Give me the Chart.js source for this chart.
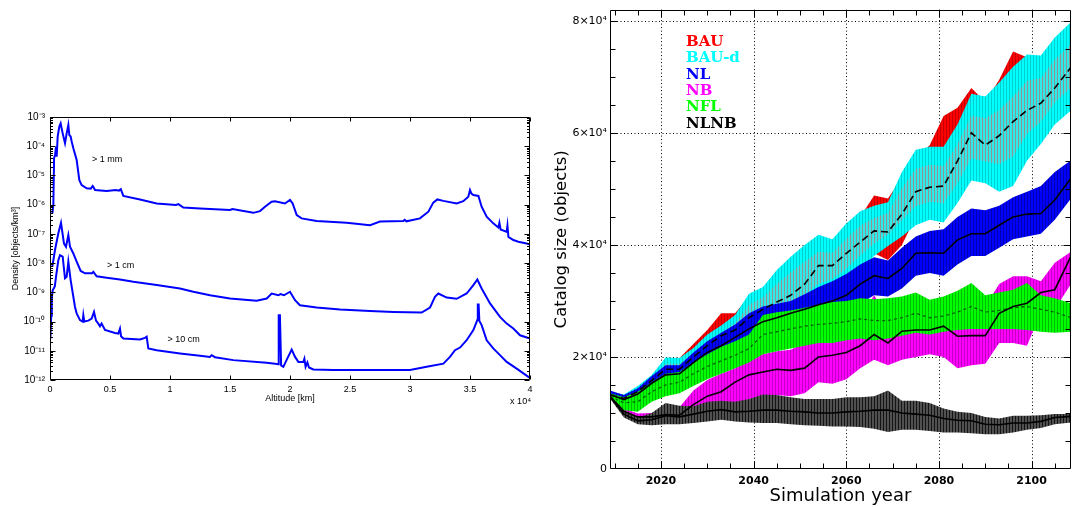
<!DOCTYPE html>
<html><head><meta charset="utf-8">
<script src="https://cdn.jsdelivr.net/npm/chart.js@4.4.1/dist/chart.umd.min.js"></script>
<style>
html,body{margin:0;padding:0;background:#fff;}
body{width:1074px;height:507px;position:relative;overflow:hidden;}
#left{position:absolute;left:0;top:100px;width:545px;height:310px;}
#right{position:absolute;left:545px;top:0;width:529px;height:507px;}
</style></head><body>
<canvas id="left" width="545" height="310"></canvas>
<canvas id="right" width="529" height="507"></canvas>
<script>
// ---------------- LEFT CHART DATA (altitude km, log10 density) ----------------
const alt1mm = [200,278,340,420,500,556,639,778,889,1056,1250,1389,1528,1611,1722,1806,1945,2222,2444,2639,3056,3400,3556,3650,3750,4722,5500,5750,5900,6111,7500,8889,10500,10700,11111,12500,15000,15200,16945,17500,17917,18470,18750,19580,20000,20220,20560,20970,22220,24720,26670,27500,29440,29560,29700,30830,31530,31940,32280,32780,33890,34440,34860,35000,35120,35280,35700,35970,36390,36940,37360,37450,37550,38060,38120,38200,38610,39030,39720,40000];
const log1mm = [-6.3,-6.0,-4.4,-4.3,-4.02,-4.36,-3.67,-3.33,-3.22,-3.56,-3.9,-3.56,-3.27,-3.62,-3.67,-3.84,-4.07,-4.47,-5.16,-5.33,-5.44,-5.45,-5.36,-5.42,-5.5,-5.53,-5.5,-5.52,-5.47,-5.7,-5.82,-5.96,-6.01,-5.98,-6.1,-6.13,-6.18,-6.15,-6.28,-6.22,-6.07,-5.9,-5.88,-5.96,-5.84,-5.96,-6.36,-6.47,-6.56,-6.62,-6.7,-6.58,-6.56,-6.52,-6.57,-6.47,-6.24,-5.93,-5.82,-5.87,-5.96,-5.88,-5.73,-5.5,-5.62,-5.67,-5.7,-6.07,-6.41,-6.64,-6.78,-6.62,-6.85,-6.93,-6.72,-7.1,-7.21,-7.27,-7.33,-7.36];
const alt1cm = [194,300,417,694,917,1167,1333,1528,1667,1945,2222,2556,2917,3500,3611,3889,4722,5833,6944,8889,10833,11945,13333,15000,17220,18060,18470,19030,19200,19500,20000,20420,20830,22220,24170,26670,28610,30970,31670,32080,32360,33060,33890,34720,35280,35610,35970,36670,37500,38060,38610,39170,39860,40000];
const log1cm = [-8.12,-7.85,-7.55,-6.98,-6.62,-7.33,-7.44,-7.04,-7.44,-7.67,-7.95,-8.27,-8.35,-8.35,-8.3,-8.45,-8.5,-8.56,-8.64,-8.75,-8.87,-8.98,-9.1,-9.21,-9.29,-9.21,-9.04,-9.1,-9.06,-9.1,-8.98,-9.27,-9.44,-9.52,-9.59,-9.64,-9.67,-9.69,-9.52,-9.15,-9.04,-9.18,-9.22,-9.04,-8.75,-8.56,-8.87,-9.38,-9.84,-10.07,-10.24,-10.47,-10.56,-10.57];
const alt10cm = [30,100,150,222,400,500,694,833,1056,1250,1389,1528,1720,1945,2083,2222,2500,2722,2778,2860,3194,3472,3667,3833,4028,4167,4300,4583,5417,5694,5833,5920,6111,7500,7917,8056,8194,8889,10833,12500,13330,13470,13750,15280,18060,18750,19000,19060,19160,19260,19445,19780,20140,20420,20700,21110,21200,21300,21450,21580,21945,23610,26670,30000,31390,32780,33330,33750,34170,34720,35280,35610,35650,35720,35780,35970,36390,36940,37500,38060,38890,39860,40000];
const log10cm = [-10.6,-9.8,-9.2,-8.93,-8.8,-8.47,-7.9,-7.73,-7.78,-8.52,-8.47,-7.95,-8.58,-9.15,-9.5,-9.72,-9.95,-10.0,-9.78,-10.0,-9.97,-9.9,-9.67,-9.97,-10.07,-10.16,-10.07,-10.29,-10.39,-10.41,-10.24,-10.5,-10.58,-10.61,-10.56,-10.52,-10.92,-10.98,-11.09,-11.17,-11.21,-11.15,-11.22,-11.32,-11.41,-11.44,-11.46,-9.78,-9.78,-11.5,-11.55,-11.26,-10.96,-11.21,-11.38,-11.38,-11.27,-11.55,-11.4,-11.57,-11.64,-11.66,-11.66,-11.66,-11.55,-11.44,-11.21,-10.98,-10.89,-10.64,-10.29,-9.95,-9.42,-9.42,-9.98,-10.12,-10.64,-10.92,-11.15,-11.38,-11.61,-11.89,-11.92];
const altTicks = [0,5000,10000,15000,20000,25000,30000,35000,40000];
const densTicks = [1e-12,1e-11,1e-10,1e-9,1e-8,1e-7,1e-6,1e-5,1e-4,1e-3];
const sizeLabels = ['> 1 mm','> 1 cm','> 10 cm'];

// ---------------- RIGHT CHART DATA (thousands of objects) ----------------
const years = [2009,2012,2015,2018,2021,2024,2027,2030,2033,2036,2039,2042,2045,2048,2051,2054,2057,2060,2063,2066,2069,2072,2075,2078,2081,2084,2087,2090,2093,2096,2099,2102,2105,2108.5];
const bauYears = [2009,2012,2015,2018,2021,2024,2027,2030,2033,2036,2039,2042,2045,2048,2051,2054,2057,2060,2063,2066,2069,2072,2075,2078,2081,2084,2087,2090,2093,2096,2099];
const bauHi = [13.5,12.8,14.2,16.2,18.8,19.8,22.3,24.8,27.8,27.8,30.8,31.5,34.5,37.0,39.5,40.5,40.0,42.8,45.0,48.8,48.3,52.0,55.5,57.8,63.0,64.5,68.0,65.5,69.5,74.5,73.5];
const bauLo = [12.8,12.0,13.0,15.0,16.8,17.0,19.0,20.8,22.5,23.5,25.5,27.0,28.0,29.0,30.5,32.5,33.5,35.5,37.5,38.5,37.3,40.0,45.0,47.0,47.0,50.5,54.5,53.5,53.0,54.0,57.5];
const baudHi = [13.8,13.3,14.8,16.8,19.9,19.8,21.6,24.0,25.6,27.5,31.3,32.5,35.5,37.9,40.0,41.8,41.0,43.8,46.0,47.0,47.6,53.0,57.0,57.5,57.5,61.5,67.0,66.5,69.0,71.8,74.0,73.8,77.0,79.8];
const baudMid = [13.2,12.6,13.8,15.8,17.8,17.8,20.0,22.0,23.8,24.8,27.0,28.5,29.8,31.0,33.0,36.3,36.3,38.5,40.5,42.5,42.3,45.5,49.5,50.3,50.5,55.0,60.0,57.8,59.5,62.0,64.0,65.3,68.0,71.7];
const baudLo = [12.7,11.5,12.5,14.0,15.5,15.8,17.5,19.0,20.5,21.8,23.5,25.0,25.8,26.8,28.0,30.0,31.5,33.0,35.5,38.0,39.8,41.5,43.5,44.5,44.0,47.5,51.5,51.0,49.5,50.5,55.0,58.0,61.5,64.0];
const baudInHi = [13.5,12.9,14.2,16.1,18.8,18.8,20.6,22.8,24.3,26.0,29.3,30.6,33.0,35.1,37.0,38.8,38.6,41.1,43.4,44.8,45.7,50.1,53.6,54.3,54.1,58.0,63.1,62.6,64.1,66.5,69.3,69.8,73.1,75.8];
const baudInLo = [12.9,11.9,13.0,14.6,16.5,16.8,18.5,20.2,21.8,23.2,25.4,26.9,28.2,29.6,31.0,33.0,33.9,35.7,38.1,40.2,41.8,44.4,46.9,47.7,47.4,51.0,55.4,54.9,54.4,55.8,59.8,62.0,65.4,68.0];
const nlHi = [14.0,13.2,14.4,16.6,18.5,18.5,20.8,22.8,24.3,25.8,27.8,29.0,29.5,30.0,31.2,32.5,33.5,34.8,36.5,37.8,37.2,39.5,41.5,42.5,42.8,45.0,46.5,46.2,47.0,48.5,49.5,50.5,53.0,55.1];
const nlMid = [13.3,12.4,13.4,15.3,16.8,17.0,19.0,20.8,22.0,23.5,25.0,26.3,27.0,27.8,28.5,29.3,30.0,31.0,33.0,34.5,34.0,35.8,38.5,38.6,38.5,40.9,42.0,42.0,43.5,45.0,45.5,45.6,48.0,51.9];
const nlLo = [12.7,11.5,12.3,13.8,15.2,15.5,17.2,18.8,19.8,21.2,22.5,23.5,24.2,25.0,25.8,26.3,26.8,27.5,29.5,31.0,30.8,32.2,34.5,35.0,34.5,36.5,38.0,38.0,39.5,41.0,41.5,42.0,44.5,48.3];
const nbHi = [13.2,10.8,9.9,10.0,10.8,11.0,14.0,15.9,17.0,18.0,19.5,20.5,21.0,21.3,22.5,24.0,24.5,25.5,27.0,31.0,27.0,28.0,28.5,29.5,30.0,29.0,29.5,29.0,33.0,34.4,34.4,33.5,36.8,38.8];
const nbMid = [13.0,10.3,9.3,9.3,9.7,9.6,11.5,13.0,13.8,15.5,16.8,17.3,17.8,17.6,18.0,20.0,20.3,20.8,22.0,24.0,22.5,24.6,24.8,24.8,25.5,23.7,23.8,23.8,27.8,29.0,29.6,31.5,32.0,38.0];
const nbLo = [12.8,9.8,8.8,8.8,9.0,9.0,10.0,10.2,10.8,11.5,12.5,13.0,13.2,13.0,13.5,15.5,15.2,16.0,18.0,19.5,18.5,19.5,20.0,20.5,20.0,18.0,18.5,18.8,22.5,22.5,22.0,28.0,28.5,33.0];
const nflHi = [13.5,12.8,13.8,15.5,17.0,17.3,19.0,20.5,21.8,22.8,24.0,27.5,28.0,28.3,28.8,29.3,29.8,30.0,30.5,30.3,30.5,30.8,31.5,30.2,30.8,31.8,33.2,31.0,31.5,32.0,33.2,31.0,30.5,29.6];
const nflMid = [13.0,11.8,12.0,13.8,15.0,15.5,17.0,18.3,19.3,20.3,21.5,24.0,24.5,25.0,25.5,25.8,26.0,26.3,26.8,26.5,26.5,27.0,27.8,27.0,27.3,28.0,29.0,28.0,28.3,28.8,29.0,28.5,28.0,27.0];
const nflLo = [12.5,10.5,10.2,12.0,13.0,13.5,14.8,16.0,17.0,18.0,19.0,20.5,21.0,21.5,22.0,22.5,22.5,23.0,23.3,23.0,23.3,23.8,24.3,24.0,24.5,24.8,25.0,25.0,25.0,25.0,24.8,24.5,24.3,24.5];
const nlnbHi = [13.1,10.5,9.2,10.0,11.8,11.3,11.2,12.0,12.2,12.0,12.5,13.3,13.2,12.8,12.5,12.5,12.5,12.8,12.8,13.0,14.0,12.2,12.2,11.8,10.8,10.2,10.0,9.3,9.0,9.5,9.5,9.6,9.8,9.8];
const nlnbMid = [12.9,9.8,8.6,8.8,9.5,9.3,9.8,10.3,10.6,10.2,10.3,10.5,10.5,10.3,10.2,10.0,10.0,10.2,10.3,10.5,10.5,10.0,9.8,9.6,9.0,8.7,8.6,8.0,7.9,8.2,8.2,8.5,9.2,9.4];
const nlnbLo = [12.6,9.2,8.0,7.8,8.0,8.0,8.2,8.5,8.8,8.5,8.3,8.2,8.2,8.0,7.8,7.7,7.6,7.6,7.5,7.2,6.6,7.0,7.0,6.8,6.5,6.5,6.4,6.2,6.2,6.5,7.0,7.3,8.0,8.3];
const yearTicks = [2020,2040,2060,2080,2100];
const sizeTicks = [0,20,40,60,80];
const legendNames = ['BAU','BAU-d','NL','NB','NFL','NLNB'];
const legendColors = ['#ff0000','#00ffff','#0000ff','#ff00ff','#00ff00','#000000'];

// ---------------- helpers ----------------
const pts = (xs, ys, f) => xs.map((x, i) => ({x, y: f ? f(ys[i]) : ys[i]}));
const SUP = {'-':'⁻','0':'⁰','1':'¹','2':'²','3':'³','4':'⁴','5':'⁵','6':'⁶','7':'⁷','8':'⁸','9':'⁹'};
const sup = s => String(s).split('').map(c => SUP[c]).join('');

function frameTicks(xt, yt){
  return { id:'frameTicks', afterDatasetsDraw(chart){
    const {ctx, chartArea:a, scales:{x, y}} = chart;
    ctx.save(); ctx.strokeStyle = '#000'; ctx.lineWidth = 1; ctx.setLineDash([]);
    const L = Math.round(a.left)+0.5, R = Math.round(a.right)-0.5, T = Math.round(a.top)+0.5, B = Math.round(a.bottom)-0.5;
    ctx.beginPath(); ctx.rect(L, T, R-L, B-T);
    for (const [v, len] of xt){ const p = Math.round(x.getPixelForValue(v))+0.5; ctx.moveTo(p,B); ctx.lineTo(p,B-len); ctx.moveTo(p,T); ctx.lineTo(p,T+len); }
    for (const [v, len] of yt){ const p = Math.round(y.getPixelForValue(v))+0.5; ctx.moveTo(L,p); ctx.lineTo(L+len,p); ctx.moveTo(R,p); ctx.lineTo(R-len,p); }
    ctx.stroke(); ctx.restore();
  }};
}
function stripe(c1, c2){
  const cv = document.createElement('canvas'); cv.width = 3; cv.height = 4;
  const g = cv.getContext('2d');
  g.fillStyle = c1; g.fillRect(0,0,3,4);
  g.fillStyle = c2; g.fillRect(2,0,1,4);
  return g.createPattern(cv, 'repeat');
}

// ---------------- LEFT CHART ----------------
const blueLine = {borderColor:'#0000ff', borderWidth:2, pointRadius:0, fill:false, tension:0};
const lxt = altTicks.map(v => [v, 4]);
const lyt = [];
densTicks.forEach((v, i) => { lyt.push([v, 5]); if (i < densTicks.length-1) for (let k = 2; k <= 9; k++) lyt.push([k*v, 2.5]); });
const leftText = { id:'leftText', afterDatasetsDraw(chart){
  const {ctx, chartArea:a, scales:{x, y}} = chart;
  ctx.save(); ctx.fillStyle = '#000'; ctx.font = '9px "Liberation Sans", Arial, sans-serif'; ctx.textBaseline = 'middle'; ctx.textAlign = 'left';
  const anchors = [[3500, -4.47], [4750, -8.09], [9800, -10.6]];
  sizeLabels.forEach((t, i) => ctx.fillText(t, x.getPixelForValue(anchors[i][0]), y.getPixelForValue(10**anchors[i][1])));
  ctx.textAlign = 'right'; ctx.fillText('x 10⁴', a.right+1, a.bottom+22);
  ctx.restore();
}};
new Chart(document.getElementById('left'), {
  type:'line',
  data:{datasets:[
    {label:'> 1 mm', data:pts(alt1mm, log1mm, e => 10**e), ...blueLine},
    {label:'> 1 cm', data:pts(alt1cm, log1cm, e => 10**e), ...blueLine},
    {label:'> 10 cm', data:pts(alt10cm, log10cm, e => 10**e), ...blueLine}
  ]},
  options:{
    responsive:false, animation:false, events:[], devicePixelRatio:1,
    layout:{padding:{top:17, right:15, left:0, bottom:0}},
    plugins:{legend:{display:false}, tooltip:{enabled:false}},
    scales:{
      x:{type:'linear', min:0, max:40000, grid:{display:false, drawTicks:false}, border:{display:false},
        afterBuildTicks: ax => { ax.ticks = altTicks.map(v => ({value:v})); },
        afterFit: ax => { ax.height = 30; },
        ticks:{autoSkip:false, maxRotation:0, padding:4, color:'#000', font:{family:'Liberation Sans', size:9}, callback: v => String(v/10000)},
        title:{display:true, text:'Altitude [km]', color:'#000', font:{family:'Liberation Sans', size:9}, padding:{top:0, bottom:6}}},
      y:{type:'logarithmic', min:1e-12, max:1e-3, grid:{display:false, drawTicks:false}, border:{display:false},
        afterBuildTicks: ax => { ax.ticks = densTicks.map(v => ({value:v})); },
        afterFit: ax => { ax.width = 50; },
        ticks:{autoSkip:false, padding:5, color:'#000', font:{family:'Liberation Sans', size:10}, callback: v => '10' + sup(Math.round(Math.log10(v)))},
        title:{display:true, text:'Density [objects/km³]', color:'#000', font:{family:'Liberation Sans', size:9}, padding:{top:10, bottom:0}}}
    }
  },
  plugins:[frameTicks(lxt, lyt), leftText]
});

// ---------------- RIGHT CHART ----------------
const P = {
  red: stripe('#ff0000', '#c40000'), cyan: stripe('#00ffff', '#00d0d0'), inner: stripe('#30eaea', '#8a9696'),
  blue: stripe('#0000ff', '#0000b0'), mag: stripe('#ff00ff', '#c400c4'), green: stripe('#00ff00', '#00bb00'), black: stripe('#505050', '#151515')
};
const clear = 'rgba(0,0,0,0)';
function band(xs, lo, hi, pat, order){
  return [
    {data:pts(xs, hi), fill:'+1', backgroundColor:pat, borderColor:clear, borderWidth:0, pointRadius:0, order, tension:0},
    {data:pts(xs, lo), fill:false, borderColor:clear, borderWidth:0, pointRadius:0, order, tension:0}
  ];
}
function mid(xs, ys, color, dash, w, order){
  return {data:pts(xs, ys), fill:false, borderColor:color, borderWidth:w, borderDash:dash, pointRadius:0, order, tension:0};
}
const rxt = []; for (let v = 2010; v <= 2105; v += 5) rxt.push([v, v % 20 === 0 ? 7 : 5]);
const ryt = []; for (let v = 5; v <= 80; v += 5) ryt.push([v, v % 20 === 0 ? 7 : 5]);
const rightGrid = { id:'rightGrid', beforeDatasetsDraw(chart){
  const {ctx, chartArea:a, scales:{x, y}} = chart;
  ctx.save(); ctx.strokeStyle = '#000'; ctx.lineWidth = 1; ctx.setLineDash([1, 2.5]);
  ctx.beginPath();
  yearTicks.forEach(v => { const p = Math.round(x.getPixelForValue(v))+0.5; ctx.moveTo(p, a.top); ctx.lineTo(p, a.bottom); });
  sizeTicks.forEach(v => { if (v === 0) return; const p = Math.round(y.getPixelForValue(v))+0.5; ctx.moveTo(a.left, p); ctx.lineTo(a.right, p); });
  ctx.stroke(); ctx.restore();
}};
const rightLegend = { id:'rightLegend', afterDatasetsDraw(chart){
  const {ctx, chartArea:a} = chart;
  ctx.save(); ctx.font = 'bold 15px "DejaVu Serif", serif'; ctx.textBaseline = 'alphabetic'; ctx.textAlign = 'left';
  legendNames.forEach((t, i) => { ctx.fillStyle = legendColors[i]; ctx.fillText(t, a.left + 76, a.top + 36 + i*16.45); });
  ctx.restore();
}};
new Chart(document.getElementById('right'), {
  type:'line',
  data:{datasets:[
    ...band(bauYears, bauLo, bauHi, P.red, 100),
    ...band(years, baudLo, baudHi, P.cyan, 90),
    ...band(years, baudInLo, baudInHi, P.inner, 85),
    ...band(years, nlLo, nlHi, P.blue, 80),
    ...band(years, nbLo, nbHi, P.mag, 70),
    ...band(years, nflLo, nflHi, P.green, 60),
    ...band(years, nlnbLo, nlnbHi, P.black, 50),
    mid(years, baudMid, '#000', [7, 4], 1.6, 5),
    mid(years, nlMid, '#000', [], 1.6, 5),
    mid(years, nbMid, '#000', [], 1.6, 5),
    mid(years, nflMid, 'rgb(0,100,0)', [3, 3], 1.3, 5),
    mid(years, nlnbMid, '#000', [], 1.6, 5)
  ]},
  options:{
    responsive:false, animation:false, events:[], devicePixelRatio:1,
    layout:{padding:{top:9, right:3, left:0, bottom:0}},
    plugins:{legend:{display:false}, tooltip:{enabled:false}},
    scales:{
      x:{type:'linear', min:2009, max:2108.5, grid:{display:false, drawTicks:false}, border:{display:false},
        afterBuildTicks: ax => { ax.ticks = yearTicks.map(v => ({value:v})); },
        afterFit: ax => { ax.height = 38; },
        ticks:{autoSkip:false, maxRotation:0, padding:6, color:'#000', font:{family:'DejaVu Sans', size:11, weight:'bold'}, callback: v => String(v)},
        title:{display:true, text:'Simulation year', color:'#000', font:{family:'DejaVu Sans', size:18}, padding:{top:0, bottom:0}}},
      y:{type:'linear', min:0, max:82, grid:{display:false, drawTicks:false}, border:{display:false},
        afterBuildTicks: ax => { ax.ticks = sizeTicks.map(v => ({value:v})); },
        afterFit: ax => { ax.width = 65; },
        ticks:{autoSkip:false, padding:3, color:'#000', font:{family:'DejaVu Sans', size:11}, callback: v => v === 0 ? '0' : (v/10) + '×10' + sup(4)},
        title:{display:true, text:'Catalog size (objects)', color:'#000', font:{family:'DejaVu Sans', size:16.5}, padding:{top:7, bottom:0}}}
    }
  },
  plugins:[rightGrid, frameTicks(rxt, ryt), rightLegend]
});
</script>
</body></html>
